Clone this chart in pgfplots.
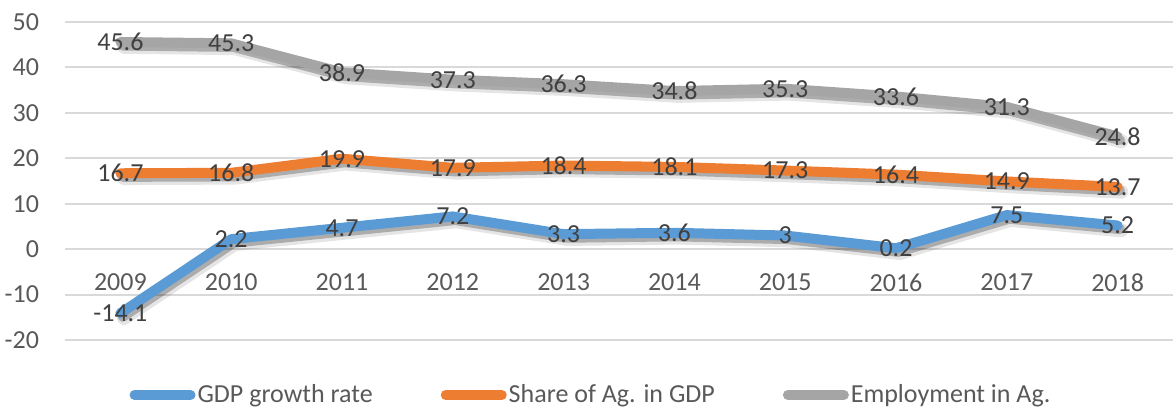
\documentclass[border=0pt]{standalone}
\usepackage{pgfplots}
\pgfplotsset{compat=1.18}
\usepackage{pgfplotstable}
\usepackage{fontspec}
\setmainfont{Carlito}
\definecolor{cblue}{HTML}{5B9BD5}
\definecolor{corange}{HTML}{ED7D31}
\definecolor{cgray}{HTML}{A5A5A5}
\definecolor{ctext}{HTML}{595959}
\definecolor{clabel}{HTML}{404040}
\definecolor{cgrid}{HTML}{D9D9D9}

\pgfplotstableread{
x gdp gdpl share sharel emp empl
0 -14.1 -14.1 16.7 16.7 45.6 45.6
1 2.2 2.2 16.8 16.8 45.3 45.3
2 4.7 4.7 19.9 19.9 38.9 38.9
3 7.2 7.2 17.9 17.9 37.3 37.3
4 3.3 3.3 18.4 18.4 36.3 36.3
5 3.6 3.6 18.1 18.1 34.8 34.8
6 3 3 17.3 17.3 35.3 35.3
7 0.2 0.2 16.4 16.4 33.6 33.6
8 7.5 7.5 14.9 14.9 31.3 31.3
9 5.2 5.2 13.7 13.7 24.8 24.8
}\datatable

\begin{document}
\fontsize{13}{15}\selectfont
\begin{tikzpicture}
\useasboundingbox (0,0) rectangle (586.5pt,205pt);
\begin{axis}[
  at={(32.5pt,35pt)}, anchor=south west,
  scale only axis, width=554pt, height=159pt,
  xmin=-0.5, xmax=9.5, ymin=-20, ymax=50,
  ytick={-20,-10,...,50},
  xtick={0,...,9},
  xticklabels={2009,2010,2011,2012,2013,2014,2015,2016,2017,2018},
  axis line style={draw=none}, major tick style={draw=none},
  ymajorgrids, grid style={cgrid, line width=1pt},
  /pgf/number format/assume math mode=true,
  ticklabel style={font=\fontsize{13}{15}\selectfont, text=ctext},
  xticklabel style={anchor=center, yshift=28.75pt},
  yticklabel style={anchor=east, xshift=-8.5pt},
  clip=false,
  legend columns=3,
  legend style={at={(0.4756,-0.173)}, anchor=center, draw=none, fill=none,
    font=\fontsize{13}{15}\selectfont, text=ctext,
    /tikz/every odd column/.append style={column sep=-1pt},
    /tikz/every even column/.append style={column sep=32pt},
    inner sep=0pt},
  legend image code/.code={\draw[#1, line width=5pt, line cap=round] (0pt,0pt) -- (28pt,0pt);},
  shadowline/.style={forget plot, black, line width=5pt, line join=round, line cap=round},
  mainline/.style={line width=5pt, line join=round, line cap=round, mark=none,
    nodes near coords, point meta=explicit symbolic,
    nodes near coords align=center,
    every node near coord/.append style={anchor=center, text=clabel, font=\fontsize{13}{15}\selectfont}},
]
% GDP
\addplot[shadowline, opacity=0.10, line width=7pt, xshift=1.8pt, yshift=-2.4pt] table[x=x,y=gdp]{\datatable};
\addplot[shadowline, opacity=0.25, xshift=1.2pt, yshift=-1.8pt] table[x=x,y=gdp]{\datatable};
\addplot[mainline, cblue] table[x=x,y=gdp,meta=gdpl]{\datatable};
\addlegendentry{GDP growth rate}
% Share
\addplot[shadowline, opacity=0.10, line width=7pt, xshift=1.8pt, yshift=-2.4pt] table[x=x,y=share]{\datatable};
\addplot[shadowline, opacity=0.25, xshift=1.2pt, yshift=-1.8pt] table[x=x,y=share]{\datatable};
\addplot[mainline, corange] table[x=x,y=share,meta=sharel]{\datatable};
\addlegendentry{Share of Ag. in GDP}
% Employment
\addplot[shadowline, opacity=0.10, line width=7pt, xshift=1.8pt, yshift=-2.4pt] table[x=x,y=emp]{\datatable};
\addplot[shadowline, opacity=0.25, xshift=1.2pt, yshift=-1.8pt] table[x=x,y=emp]{\datatable};
\addplot[mainline, cgray] table[x=x,y=emp,meta=empl]{\datatable};
\addlegendentry{Employment in Ag.}
\end{axis}
\end{tikzpicture}
\end{document}
